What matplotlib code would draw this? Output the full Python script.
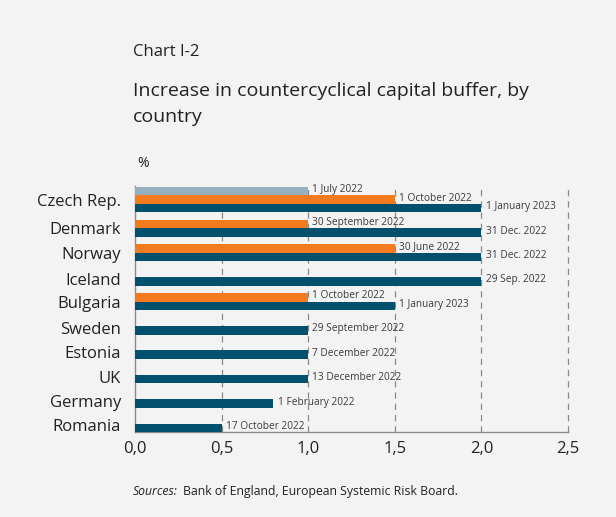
import matplotlib.pyplot as plt
import matplotlib.ticker as mticker

# Countercyclical capital buffer rates (%) and effective dates
paises = ['Czech Rep.', 'Denmark', 'Norway', 'Iceland', 'Bulgaria',
          'Sweden', 'Estonia', 'UK', 'Germany', 'Romania']

# first step (only Czech Rep.)
etapa1_pais = ['Czech Rep.']
etapa1_valor = [1.0]
etapa1_data = ['1 July 2022']

# intermediate step
etapa2_pais = ['Czech Rep.', 'Denmark', 'Norway', 'Bulgaria']
etapa2_valor = [1.5, 1.0, 1.5, 1.0]
etapa2_data = ['1 October 2022', '30 September 2022', '30 June 2022', '1 October 2022']

# final announced rate
final_valor = [2.0, 2.0, 2.0, 2.0, 1.5, 1.0, 1.0, 1.0, 0.8, 0.5]
final_data = ['1 January 2023', '31 Dec. 2022', '31 Dec. 2022', '29 Sep. 2022',
              '1 January 2023', '29 September 2022', '7 December 2022',
              '13 December 2022', '1 February 2022', '17 October 2022']

xticks = [0.0, 0.5, 1.0, 1.5, 2.0, 2.5]

COR_FUNDO = '#f3f3f3'
COR_CINZA = '#97b0bf'
COR_LARANJA = '#f47a20'
COR_AZUL = '#00506e'
COR_TEXTO = '#3a3a3a'

plt.rcParams['font.family'] = ['Open Sans', 'DejaVu Sans']

fig = plt.figure(figsize=(6.16, 5.17), dpi=100, facecolor=COR_FUNDO)
ax = fig.add_axes([0.219, 0.164, 0.703, 0.476], facecolor=COR_FUNDO)

h = 0.35
pos = {p: i for i, p in enumerate(paises)}

def barras(nomes, valores, datas, deslocamento, cor):
    ys = [pos[n] - deslocamento for n in nomes]
    ax.barh(ys, valores, height=h, color=cor, zorder=3)
    for y, v, d in zip(ys, valores, datas):
        ax.annotate(d, (v, y), xytext=(3, 1), textcoords='offset points',
                    ha='left', va='center', fontsize=7.3, color=COR_TEXTO, zorder=4)

barras(etapa1_pais, etapa1_valor, etapa1_data, 2 * h, COR_CINZA)
barras(etapa2_pais, etapa2_valor, etapa2_data, h, COR_LARANJA)
barras(paises, final_valor, final_data, 0, COR_AZUL)

# country labels centred on each group of bars
n_barras = {p: 1 for p in paises}
for p in etapa2_pais:
    n_barras[p] += 1
for p in etapa1_pais:
    n_barras[p] += 1
ycentro = [pos[p] - (n_barras[p] - 1) * h / 2 - (0.1 if n_barras[p] == 1 else 0)
           for p in paises]
ax.set_yticks(ycentro)
ax.set_yticklabels(paises, fontsize=12, color='#222222')
ax.tick_params(axis='y', length=0, pad=10)

ax.set_ylim(9.175, -0.9)
ax.set_xlim(0, 2.5)
ax.set_xticks(xticks)
ax.xaxis.set_major_formatter(mticker.FuncFormatter(lambda x, p: f'{x:.1f}'.replace('.', ',')))
ax.tick_params(axis='x', length=0, pad=6, labelsize=12, labelcolor='#222222')

for x in xticks[1:]:
    ax.axvline(x, color='#8a8a8a', linestyle=(0, (5, 4)), linewidth=0.9, zorder=1,
               clip_on=False)

for lado in ['top', 'right']:
    ax.spines[lado].set_visible(False)
for lado in ['left', 'bottom']:
    ax.spines[lado].set_color('#8a8a8a')
    ax.spines[lado].set_linewidth(1.0)

# titles and source
fig.text(0.216, 0.900, 'Chart I-2', fontsize=12, color='#222222', va='center')
fig.text(0.216, 0.799, 'Increase in countercyclical capital buffer, by\ncountry',
         fontsize=14, color='#222222', va='center', linespacing=1.62)
fig.text(0.222, 0.684, '%', fontsize=10, color='#222222', va='center')
fig.text(0.216, 0.049, 'Sources:', fontsize=8.8, style='italic', color='#222222', va='center')
fig.text(0.297, 0.049, 'Bank of England, European Systemic Risk Board.',
         fontsize=8.8, color='#222222', va='center')

plt.savefig('out.png', dpi=100, facecolor=COR_FUNDO)
